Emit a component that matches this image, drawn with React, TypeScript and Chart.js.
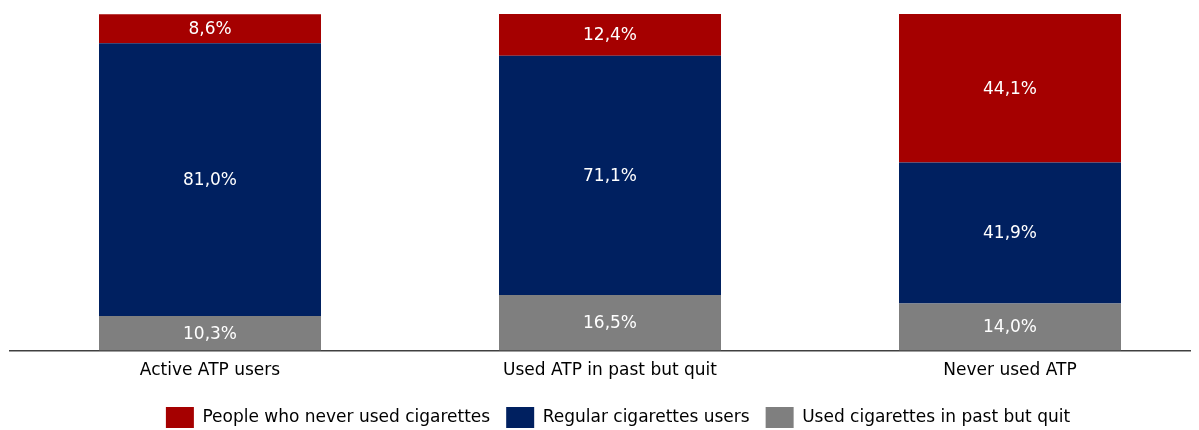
import { useEffect, useRef } from "react";
import { Chart, registerables } from "chart.js";

Chart.register(...registerables);

const categories = ["Active ATP users", "Used ATP in past but quit", "Never used ATP"];
const seriesNames = [
  "Used cigarettes in past but quit",
  "Regular cigarettes users",
  "People who never used cigarettes",
];
const usedPastQuit = [10.3, 16.5, 14.0];
const regularUsers = [81.0, 71.1, 41.9];
const neverUsed = [8.6, 12.4, 44.1];
const seriesColors = ["#7F7F7F", "#002060", "#A50000"];

const FONT = "'DejaVu Sans', sans-serif";
const FS = 17;

const valueLabels = {
  id: "valueLabels",
  afterLayout(chart: any) {
    if (chart.legend) {
      chart.legend.left += 8;
      chart.legend.right += 8;
    }
  },
  afterDatasetsDraw(chart: any) {
    const ctx = chart.ctx;
    ctx.save();
    ctx.fillStyle = "#FFFFFF";
    ctx.font = `${FS}px ${FONT}`;
    ctx.textAlign = "center";
    ctx.textBaseline = "middle";
    chart.data.datasets.forEach((ds: any, di: number) => {
      const meta = chart.getDatasetMeta(di);
      meta.data.forEach((el: any, i: number) => {
        const v = ds.data[i];
        const yc = (el.y + el.base) / 2 + 1;
        ctx.fillText(v.toFixed(1).replace(".", ",") + "%", el.x, yc);
      });
    });
    ctx.restore();
  },
};

export default function App() {
  const ref = useRef<HTMLCanvasElement>(null);
  useEffect(() => {
    document.body.style.overflow = "hidden";
    const seriesData = [usedPastQuit, regularUsers, neverUsed];
    const chart = new Chart(ref.current!, {
      type: "bar",
      data: {
        labels: categories,
        datasets: seriesNames.map((name, i) => ({
          label: name,
          data: seriesData[i],
          backgroundColor: seriesColors[i],
          borderWidth: 0,
          categoryPercentage: 1,
          barPercentage: 0.555,
        })),
      },
      options: {
        responsive: false,
        animation: false,
        layout: { padding: { left: 2, right: 0, top: 6, bottom: 0 } },
        plugins: {
          tooltip: { enabled: false },
          legend: {
            position: "bottom",
            reverse: true,
            labels: {
              boxWidth: 28,
              boxHeight: 21,
              padding: 16,
              color: "#000000",
              font: { family: FONT, size: FS },
            },
          },
        },
        scales: {
          x: {
            stacked: true,
            grid: { display: false, drawTicks: false },
            border: { display: true, color: "#404040", width: 1.5 },
            ticks: { color: "#000000", padding: 10, font: { family: FONT, size: FS } },
          },
          y: {
            stacked: true,
            display: false,
            min: 0,
            max: 100,
          },
        },
      },
      plugins: [valueLabels],
    });
    return () => chart.destroy();
  }, []);
  return <canvas ref={ref} width={1202} height={430} style={{ display: "block" }} />;
}
